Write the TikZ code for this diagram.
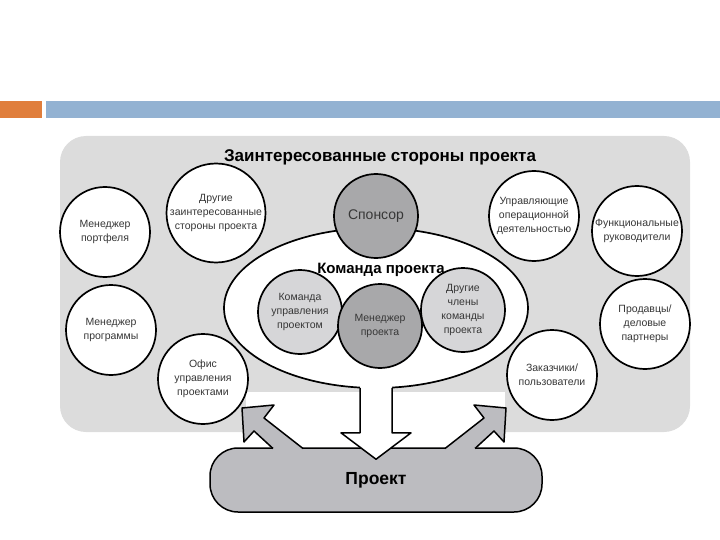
\documentclass[tikz,border=0pt]{standalone}
\usepackage{fontspec}
\setmainfont{Liberation Sans}
\definecolor{slorange}{RGB}{224,126,60}
\definecolor{slblue}{RGB}{147,178,210}
\definecolor{bggray}{RGB}{220,220,220}
\definecolor{darkfill}{RGB}{168,168,170}
\definecolor{lightfill}{RGB}{214,214,216}
\definecolor{projfill}{RGB}{188,188,192}
\definecolor{txtgray}{RGB}{55,55,55}
\usetikzlibrary{shapes.geometric,calc}

\begin{document}
\begin{tikzpicture}[x=1pt,y=-1pt,
  sbox/.style={circle, draw=black, line width=1.7pt, fill=white, inner sep=0pt,
               minimum size=90pt, font=\fontsize{10.5}{14}\selectfont,
               text=txtgray, align=center},
  tbox/.style={sbox, minimum size=84pt, fill=lightfill},
  teamell/.style={ellipse, draw=black, line width=1.7pt, fill=white, inner sep=0pt,
                  minimum width=304pt, minimum height=160pt},
  pbox/.style={rectangle, rounded corners=28pt, draw=black, line width=1.5pt,
               fill=projfill, minimum width=332pt, minimum height=64pt,
               font=\fontsize{17.5}{20}\selectfont\bfseries},
  blockline/.style={draw=black, line width=1.5pt, line join=round}
]
\useasboundingbox (0,0) rectangle (720,540);

% Slide header bars
\fill[slorange] (0,101) rectangle (42,118);
\fill[slblue]   (46,101) rectangle (720,118);

% Stakeholder area
\fill[bggray, rounded corners=26pt] (60,136) rectangle (690,432);
\fill[white] (246,392) rectangle (505,436);
\node[font=\fontsize{17}{19}\selectfont\bfseries] (title) at (380,157) {Заинтересованные стороны проекта};

% Project team
\node[teamell] (team) at (376,308) {};
\node[font=\fontsize{15}{17}\selectfont\bfseries] (teamlbl) at (381,270) {Команда проекта};
\node[sbox, minimum size=84pt, fill=darkfill, font=\fontsize{14}{16}\selectfont] (spon) at (376,216) {Спонсор};
\node[tbox] (pmt) at (300,312) {Команда\\управления\\проектом};
\node[tbox] (mem) at (463,310) {Другие\\члены\\команды\\проекта};
\node[tbox, fill=darkfill] (pm) at (380,326) {Менеджер\\проекта};

% Other stakeholders
\node[sbox] (portf) at (105,232) {Менеджер\\портфеля};
\node[sbox] (other) at (216,213) {Другие\\заинтересованные\\стороны проекта};
\node[sbox] (oper)  at (534,216) {Управляющие\\операционной\\деятельностью};
\node[sbox] (func)  at (637,231) {Функциональные\\руководители};
\node[sbox] (prog)  at (111,330) {Менеджер\\программы};
\node[sbox] (pmo)   at (203,379) {Офис\\управления\\проектами};
\node[sbox] (vend)  at (645,324) {Продавцы/\\деловые\\партнеры};
\node[sbox] (cust)  at (552,375) {Заказчики/\\пользователи};

% Project
\node[pbox] (proj) at (376,480) {Проект};

% Arrow from team to project
\coordinate (dtip) at ($(proj.north)+(0,12)$);
\fill[white] ($(team.south)+(-16,-8)$) -- ($(team.south)+(16,-8)$) -- ($(team.south)+(16,44)$)
  -- ($(team.south)+(35,44)$) -- (dtip) -- ($(team.south)+(-35,44)$) -- ($(team.south)+(-16,44)$) -- cycle;
\draw[blockline] ($(team.south)+(-16,-1)$) -- ($(team.south)+(-16,44)$) -- ($(team.south)+(-35,44)$)
  -- (dtip) -- ($(team.south)+(35,44)$) -- ($(team.south)+(16,44)$) -- ($(team.south)+(16,-1)$);

% Arrows from project to stakeholders
\fill[projfill] (264,418) -- (274,405) -- (242,408) -- (244,442) -- (254,431) -- (276,452) -- (307,452) -- cycle;
\draw[blockline] (303,448.5) -- (264,418) -- (274,405) -- (242,408) -- (244,442) -- (254,431) -- (273,448.5);
\fill[projfill] (484,418) -- (474,405) -- (506,408) -- (504,442) -- (494,431) -- (472,452) -- (441,452) -- cycle;
\draw[blockline] (445,448.5) -- (484,418) -- (474,405) -- (506,408) -- (504,442) -- (494,431) -- (475,448.5);
\end{tikzpicture}
\end{document}
